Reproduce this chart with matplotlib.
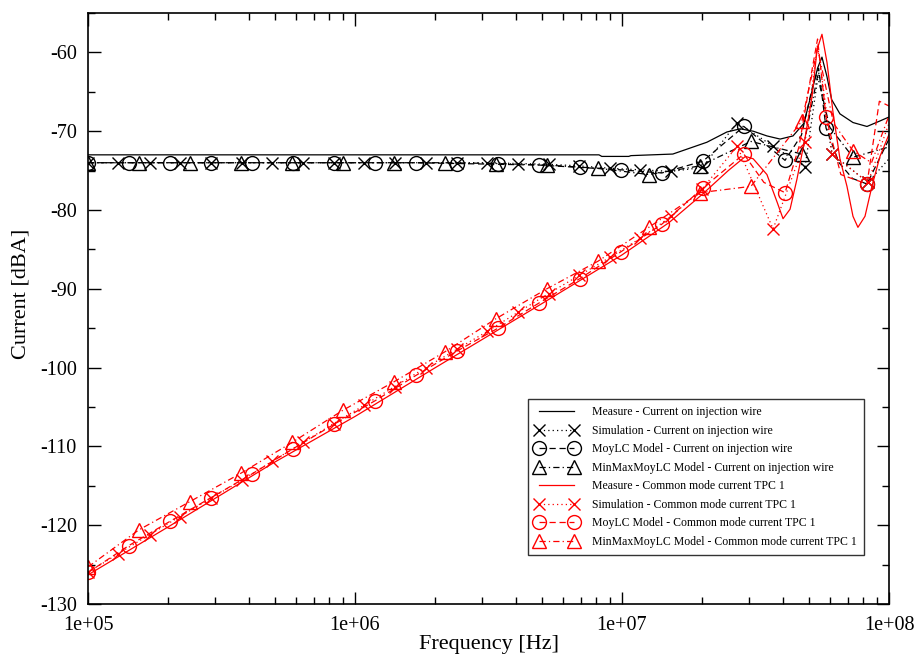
import matplotlib
matplotlib.use("Agg")
import matplotlib.pyplot as plt
from matplotlib.ticker import FixedLocator, FixedFormatter, LogLocator, MultipleLocator, NullFormatter

plt.rcParams['font.family'] = ['Liberation Serif', 'DejaVu Serif']
plt.rcParams['axes.unicode_minus'] = False

# ---------------- data ----------------
# Black: current on injection wire
f_meas_wire = [1e5, 5e5, 1e6, 2e6, 4e6, 8.2e6, 8.4e6, 1.06e7, 1.08e7, 1.55e7, 2.08e7, 2.47e7,
               2.77e7, 3.1e7, 3.49e7, 3.91e7, 4.37e7, 4.8e7, 5.1e7, 5.4e7, 5.61e7, 5.85e7,
               6.1e7, 6.55e7, 7.33e7, 8.27e7, 9.25e7, 1e8]
v_meas_wire = [-73.0, -73.0, -73.0, -73.0, -73.0, -73.0, -73.2, -73.2, -73.1, -72.9, -71.4, -70.1,
               -69.7, -70.0, -70.6, -71.0, -70.6, -69.0, -65.5, -62.0, -60.6, -63.0,
               -66.0, -67.8, -68.9, -69.4, -68.7, -68.2]

f_sim_wire = [1.0e5, 1.30e5, 1.70e5, 2.21e5, 2.88e5, 3.76e5, 4.90e5, 6.38e5, 8.32e5, 1.08e6,
              1.41e6, 1.84e6, 2.40e6, 3.13e6, 4.07e6, 5.31e6, 6.92e6, 9.02e6, 1.17e7, 1.53e7,
              2.0e7, 2.70e7, 3.68e7, 4.85e7, 5.45e7, 6.12e7, 8.34e7, 1e8]
v_sim_wire = [-74.0, -74.0, -74.0, -74.0, -74.0, -74.0, -74.0, -74.0, -74.0, -74.0,
              -74.0, -74.0, -74.0, -74.0, -74.1, -74.2, -74.4, -74.7, -74.9, -75.1,
              -74.6, -68.9, -71.9, -74.5, -62.5, -72.9, -76.5, -73.5]
m_sim_wire = list(range(0, 24)) + [25, 26]

f_moy_wire = [1.0e5, 1.42e5, 2.03e5, 2.89e5, 4.11e5, 5.86e5, 8.34e5, 1.19e6, 1.69e6, 2.41e6,
              3.43e6, 4.89e6, 6.96e6, 9.91e6, 1.41e7, 2.01e7, 2.86e7, 4.08e7, 4.7e7, 5.2e7,
              5.45e7, 5.81e7, 6.5e7, 7.3e7, 8.27e7, 1e8]
v_moy_wire = [-74.0, -74.0, -74.0, -74.0, -74.0, -74.0, -74.0, -74.0, -74.0, -74.1,
              -74.2, -74.3, -74.6, -74.9, -75.3, -73.8, -69.4, -73.7, -70.5, -64.0,
              -62.0, -69.6, -74.0, -76.0, -76.7, -71.0]
m_moy_wire = list(range(0, 18)) + [21, 24]

f_mm_wire = [1.0e5, 1.55e5, 2.41e5, 3.74e5, 5.81e5, 9.02e5, 1.40e6, 2.17e6, 3.37e6, 5.23e6,
             8.13e6, 1.26e7, 1.96e7, 3.04e7, 4.72e7, 5.4e7, 6.0e7, 7.33e7, 1e8]
v_mm_wire = [-74.0, -74.0, -74.0, -74.0, -74.0, -74.0, -74.0, -74.0, -74.1, -74.3,
             -74.7, -75.5, -74.4, -71.3, -72.9, -63.0, -69.5, -73.3, -72.0]
m_mm_wire = list(range(0, 15)) + [17]

# Red: common mode current TPC 1
f_meas_cm = [1e5, 2e5, 5e5, 1e6, 2e6, 5e6, 1e7, 1.5e7, 2e7, 2.5e7, 2.9e7, 3.1e7, 3.49e7, 3.81e7,
             4.01e7, 4.26e7, 4.52e7, 4.84e7, 5.15e7, 5.38e7, 5.61e7, 5.86e7, 6.17e7, 6.55e7,
             6.96e7, 7.33e7, 7.65e7, 8.13e7, 8.63e7, 9.25e7, 1e8]
v_meas_cm = [-126.3, -120.2, -112.0, -106.2, -100.0, -91.9, -85.7, -81.6, -78.0, -75.0, -73.2,
             -73.5, -75.5, -79.0, -81.1, -79.9, -76.1, -71.0, -65.6, -59.6, -57.7, -61.3,
             -67.6, -73.5, -77.0, -80.8, -82.2, -80.8, -77.0, -73.2, -70.4]

f_sim_cm = [1.0e5, 1.30e5, 1.70e5, 2.21e5, 2.88e5, 3.76e5, 4.90e5, 6.38e5, 8.32e5, 1.08e6,
            1.41e6, 1.84e6, 2.40e6, 3.13e6, 4.07e6, 5.31e6, 6.92e6, 9.02e6, 1.17e7, 1.53e7,
            2.0e7, 2.70e7, 3.68e7, 4.85e7, 5.4e7, 6.12e7, 8.34e7, 1e8]
v_sim_cm = [-126.0, -123.6, -121.2, -118.9, -116.6, -114.3, -111.9, -109.5, -107.1, -104.8,
            -102.4, -100.0, -97.7, -95.4, -93.0, -90.6, -88.3, -86.0, -83.6, -80.8,
            -77.3, -71.9, -82.4, -71.4, -59.0, -72.9, -76.5, -69.0]
m_sim_cm = list(range(0, 24)) + [25, 26]

f_moy_cm = [1.0e5, 1.42e5, 2.03e5, 2.89e5, 4.11e5, 5.86e5, 8.34e5, 1.19e6, 1.69e6, 2.41e6,
            3.43e6, 4.89e6, 6.96e6, 9.91e6, 1.41e7, 2.01e7, 2.86e7, 3.4e7, 4.08e7, 4.6e7,
            5.1e7, 5.4e7, 5.81e7, 6.6e7, 8.27e7, 9.2e7, 1e8]
v_moy_cm = [-126.0, -122.6, -119.5, -116.5, -113.5, -110.3, -107.2, -104.2, -101.0, -97.9,
            -95.0, -91.8, -88.7, -85.3, -81.8, -77.2, -72.9, -76.5, -77.8, -72.0,
            -63.0, -58.3, -68.2, -75.5, -76.7, -66.2, -66.8]
m_moy_cm = list(range(0, 17)) + [18, 22, 24]

f_mm_cm = [1.0e5, 1.55e5, 2.41e5, 3.74e5, 5.81e5, 9.02e5, 1.40e6, 2.17e6, 3.37e6, 5.23e6,
           8.13e6, 1.26e7, 1.96e7, 3.04e7, 4.72e7, 5.4e7, 6.2e7, 7.33e7, 8.6e7, 1e8]
v_mm_cm = [-125.3, -120.6, -117.0, -113.4, -109.5, -105.4, -101.8, -98.0, -93.8, -90.0,
           -86.5, -82.2, -77.8, -77.0, -68.7, -59.5, -69.0, -72.5, -74.0, -68.0]
m_mm_cm = list(range(0, 15)) + [17]

labels = [
    "Measure - Current on injection wire",
    "Simulation - Current on injection wire",
    "MoyLC Model - Current on injection wire",
    "MinMaxMoyLC Model - Current on injection wire",
    "Measure - Common mode current TPC 1",
    "Simulation - Common mode current TPC 1",
    "MoyLC Model - Common mode current TPC 1",
    "MinMaxMoyLC Model - Common mode current TPC 1",
]
xtick_vals = [1e5, 1e6, 1e7, 1e8]
xtick_labels = ["1e+05", "1e+06", "1e+07", "1e+08"]
ytick_vals = [-130, -120, -110, -100, -90, -80, -70, -60]

# ---------------- plot ----------------
fig = plt.figure(figsize=(9.22, 6.61), dpi=100)
ax = fig.add_axes([88/922, 1 - 604/661, (889-88)/922, (604-13)/661])

DOT = (0, (1, 2.5))
DASH = (0, (5, 3))
DASHDOT = (0, (5, 2.5, 1, 2.5))
lw = 0.9

series = [
    (f_meas_wire, v_meas_wire, None, '-', None, 'black'),
    (f_sim_wire, v_sim_wire, m_sim_wire, DOT, 'x', 'black'),
    (f_moy_wire, v_moy_wire, m_moy_wire, DASH, 'o', 'black'),
    (f_mm_wire, v_mm_wire, m_mm_wire, DASHDOT, '^', 'black'),
    (f_meas_cm, v_meas_cm, None, '-', None, 'red'),
    (f_sim_cm, v_sim_cm, m_sim_cm, DOT, 'x', 'red'),
    (f_moy_cm, v_moy_cm, m_moy_cm, DASH, 'o', 'red'),
    (f_mm_cm, v_mm_cm, m_mm_cm, DASHDOT, '^', 'red'),
]
msize = {'x': 9, 'o': 10, '^': 10}
for (f, v, marks, ls, mk, col), lab in zip(series, labels):
    kw = dict(color=col, lw=lw, linestyle=ls, label=lab)
    if mk is not None:
        kw.update(marker=mk, markevery=marks, markersize=msize[mk],
                  markerfacecolor='none', markeredgecolor=col, markeredgewidth=1.0)
    ax.plot(f, v, **kw)

ax.set_xscale('log')
ax.set_xlim(1e5, 1e8)
ax.set_ylim(-130, -55)
ax.xaxis.set_major_locator(FixedLocator(xtick_vals))
ax.xaxis.set_major_formatter(FixedFormatter(xtick_labels))
ax.xaxis.set_minor_locator(LogLocator(base=10, subs=range(2, 10)))
ax.xaxis.set_minor_formatter(NullFormatter())
ax.yaxis.set_major_locator(FixedLocator(ytick_vals))
ax.yaxis.set_minor_locator(MultipleLocator(5))

ax.tick_params(which='both', direction='in', top=True, right=True, width=1.0)
ax.tick_params(which='major', length=9, labelsize=14.5, pad=8)
ax.tick_params(which='minor', length=5)
ax.tick_params(axis='x', which='major', pad=9)
for s in ax.spines.values():
    s.set_linewidth(1.2)

ax.set_xlabel("Frequency [Hz]", fontsize=16, labelpad=0)
ax.set_ylabel("Current [dBA]", fontsize=16)
ax.yaxis.set_label_coords(-0.072, 0.525)

leg = ax.legend(loc='lower left', bbox_to_anchor=((528-88)/801, (604-555)/591),
                fontsize=8.5, numpoints=2, handlelength=3.6, labelspacing=0.55,
                fancybox=False, frameon=True, edgecolor='black', borderpad=0.6,
                handletextpad=1.2, borderaxespad=0)
leg.get_frame().set_linewidth(1.0)

fig.savefig("out.png", dpi=100)
